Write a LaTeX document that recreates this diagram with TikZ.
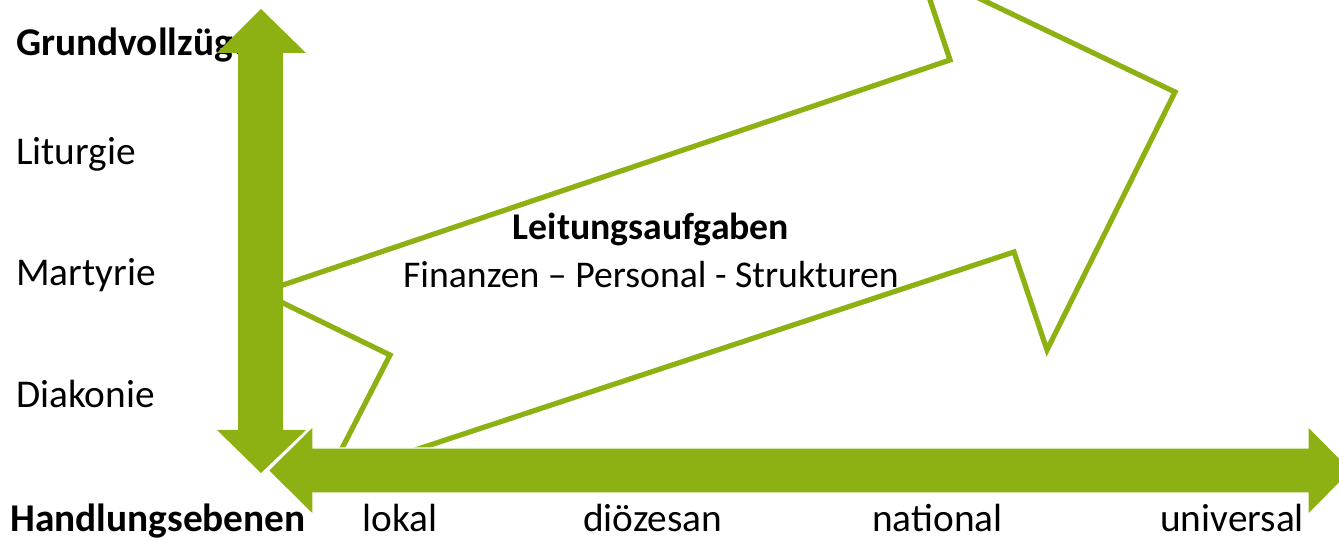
\documentclass[tikz,border=0pt]{standalone}
\usepackage{fontspec}
\setmainfont{Carlito}
\definecolor{leaf}{RGB}{141,176,19}
\begin{document}
\begin{tikzpicture}[x=0.75pt,y=-0.75pt,
  lbl/.style={inner sep=0pt,font=\fontsize{29.5}{35}\selectfont},
  lblb/.style={lbl,font=\fontsize{29.5}{35}\selectfont\bfseries},
  mid/.style={inner sep=0pt,font=\fontsize{28.3}{34}\selectfont},
  outline/.style={draw=leaf,line width=3.9pt,line join=miter},
  solid/.style={fill=leaf}]
\useasboundingbox (0,0) rectangle (1339,541);
\clip (0,0) rectangle (1339,541);

% labels of the vertical axis
\node[lblb,anchor=base west] (gv) at (16,56) {Grundvollzüge};
\node[lbl,anchor=base west] (lit) at (16,165) {Liturgie};
\node[lbl,anchor=base west] (mar) at (16,286) {Martyrie};
\node[lbl,anchor=base west] (dia) at (16,408) {Diakonie};

% centre text
\node[mid,font=\fontsize{28.3}{34}\selectfont\bfseries,anchor=base] (lt) at (651,240) {Leitungsaufgaben};
\node[mid,anchor=base] (fps) at (651,288) {Finanzen – Personal - Strukturen};

% labels of the horizontal axis
\node[lblb,anchor=base west] (he) at (10,532) {Handlungsebenen};
\node[lbl,anchor=base west] (lok) at (362,532) {lokal};
\node[lbl,anchor=base west] (dioe) at (583,532) {diözesan};
\node[lbl,anchor=base west] (nat) at (872,532) {national};
\node[lbl,anchor=base west] (uni) at (1160,532) {universal};

% large outlined arrow rising to the upper right
\draw[outline] (261,292.4) -- (950,60) -- (920,-30) -- (1175,92)
  -- (1047,350) -- (1014,252) -- (400,455);
% small outlined arrow partly hidden behind the axes
\draw[outline] (261,292.3) -- (390,355) -- (333,466);

% vertical double arrow
\fill[solid] (261,9) -- (306,53) -- (283,53) -- (283,430) -- (306,430)
  -- (261,473) -- (217,430) -- (238,430) -- (238,53) -- (217,53) -- cycle;

% horizontal double arrow
\filldraw[solid,draw=white,line width=1.1pt] (268,470.5) -- (313,426) -- (313,448)
  -- (1308,448) -- (1308,426) -- (1352,470.5) -- (1308,515) -- (1308,493)
  -- (313,493) -- (313,515) -- cycle;
\end{tikzpicture}
\end{document}
